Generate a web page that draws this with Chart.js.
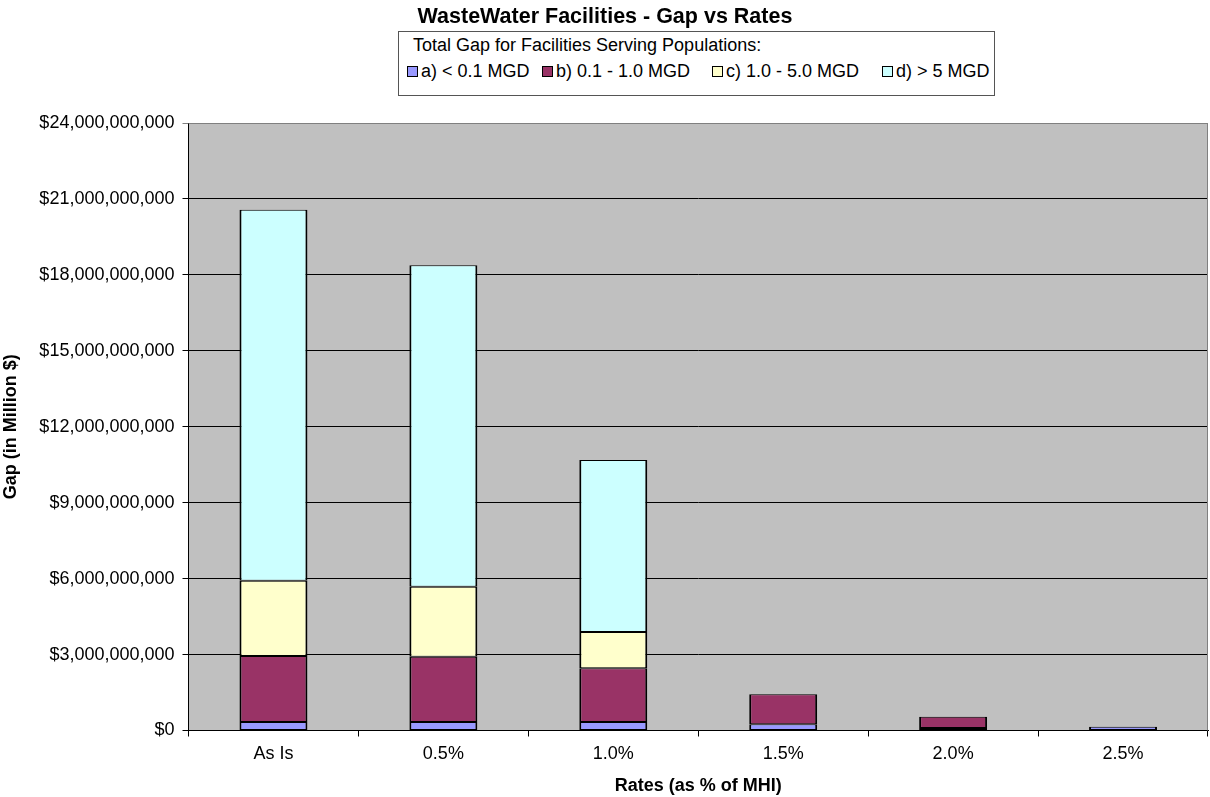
<!DOCTYPE html>
<html>
<head>
<meta charset="utf-8">
<title>WasteWater Facilities - Gap vs Rates</title>
<script src="https://cdn.jsdelivr.net/npm/chart.js@4.4.1/dist/chart.umd.min.js"></script>
<style>
  html, body { margin: 0; padding: 0; background: #fff; }
  #wrap { position: relative; width: 1210px; height: 797px; font-family: "Liberation Sans", Arial, sans-serif; color: #000; }
  #chart { position: absolute; left: 0; top: 0; }
  #title { position: absolute; left: 0; top: 4px; width: 1210px; text-align: center; font-weight: bold; font-size: 21.5px; line-height: 24px; }
  #legend { position: absolute; left: 398px; top: 31px; width: 597px; height: 65px; border: 1px solid #555; box-sizing: border-box; background: #fff; font-size: 18px; }
  #legend .head { position: absolute; left: 14px; top: 3px; white-space: nowrap; line-height: 20px; }
  #legend .item { position: absolute; top: 29px; white-space: nowrap; line-height: 20px; }
  #legend .sw { display: inline-block; width: 9px; height: 9px; border: 1px solid #000; margin-right: 3px; vertical-align: 0px; }
</style>
</head>
<body>
<div id="wrap">
  <canvas id="chart" width="1210" height="797"></canvas>
  <div id="title">WasteWater Facilities - Gap vs Rates</div>
  <div id="legend"></div>
</div>
<script>
const rates = ['As Is', '0.5%', '1.0%', '1.5%', '2.0%', '2.5%'];
const seriesNames = ['a) < 0.1 MGD', 'b) 0.1 - 1.0 MGD', 'c) 1.0 - 5.0 MGD', 'd) > 5 MGD'];
const seriesColors = ['#9999FF', '#993366', '#FFFFCC', '#CCFFFF'];

// gap per size class, dollars (null = no bar drawn)
const gapSmall  = [0.34e9, 0.34e9, 0.34e9, 0.245e9, 0.10e9, 0.15e9];
const gapMid    = [2.60e9, 2.57e9, 2.12e9, 1.19e9, 0.445e9, null];
const gapLarge  = [2.98e9, 2.77e9, 1.43e9, null, null, null];
const gapHuge   = [14.65e9, 12.70e9, 6.80e9, null, null, null];

const yMax = 24e9;
const yStep = 3e9;

// legend (html so the text stays text)
const legendEl = document.getElementById('legend');
const itemLeft = [8, 143, 313, 483];
legendEl.innerHTML = '<div class="head">Total Gap for Facilities Serving Populations:</div>' +
  seriesNames.map((n, i) =>
    `<div class="item" style="left:${itemLeft[i]}px"><span class="sw" style="background:${seriesColors[i]}"></span>${n.replace(/</g, '&lt;').replace(/>/g, '&gt;')}</div>`
  ).join('');

const plotBg = {
  id: 'plotBg',
  beforeDraw(chart) {
    const { ctx, chartArea: a } = chart;
    ctx.save();
    ctx.fillStyle = '#C0C0C0';
    ctx.fillRect(a.left, a.top, a.right - a.left, a.bottom - a.top);
    ctx.restore();
  },
  afterDraw(chart) {
    const { ctx, chartArea: a } = chart;
    ctx.save();
    ctx.strokeStyle = '#808080';
    ctx.lineWidth = 1;
    ctx.beginPath();
    ctx.moveTo(a.left, a.top + 0.5);
    ctx.lineTo(a.right - 0.5, a.top + 0.5);
    ctx.lineTo(a.right - 0.5, a.bottom);
    ctx.stroke();
    ctx.restore();
  }
};

const makeSet = (i, values) => ({
  label: seriesNames[i],
  data: values,
  backgroundColor: seriesColors[i],
  borderColor: '#000',
  borderWidth: { top: 1, bottom: 1, left: 2, right: 2 },
  borderSkipped: false,
  barPercentage: 0.4,
  categoryPercentage: 1.0
});

Chart.defaults.font.family = '"Liberation Sans", Arial, sans-serif';
Chart.defaults.color = '#000';

new Chart(document.getElementById('chart').getContext('2d'), {
  type: 'bar',
  data: {
    labels: rates,
    datasets: [
      makeSet(0, gapSmall),
      makeSet(1, gapMid),
      makeSet(2, gapLarge),
      makeSet(3, gapHuge)
    ]
  },
  options: {
    responsive: false,
    animation: false,
    layout: { padding: { top: 123, right: 2, left: 0, bottom: 0 } },
    plugins: {
      legend: { display: false },
      tooltip: { enabled: false }
    },
    scales: {
      x: {
        stacked: true,
        afterFit: (s) => { s.height = 66.5; },
        grid: { offset: true, drawOnChartArea: false, color: '#000', tickLength: 6 },
        border: { color: '#000', width: 1 },
        ticks: { font: { size: 18 }, padding: 7 },
        title: { display: true, text: 'Rates (as % of MHI)', font: { size: 18, weight: 'bold' }, padding: { top: 0, bottom: 0 } }
      },
      y: {
        stacked: true,
        min: 0,
        max: yMax,
        afterFit: (s) => { s.width = 188.5; },
        grid: {
          color: (c) => (c.tick && c.tick.value === yMax ? '#808080' : '#000'),
          tickLength: 6
        },
        border: { color: '#000', width: 1 },
        ticks: {
          stepSize: yStep,
          font: { size: 18 },
          padding: 8,
          callback: (v) => '$' + Number(v).toLocaleString('en-US')
        },
        title: { display: true, text: 'Gap (in Million $)', font: { size: 18, weight: 'bold' }, padding: { top: 0, bottom: 0 } }
      }
    }
  },
  plugins: [plotBg]
});
</script>
</body>
</html>
